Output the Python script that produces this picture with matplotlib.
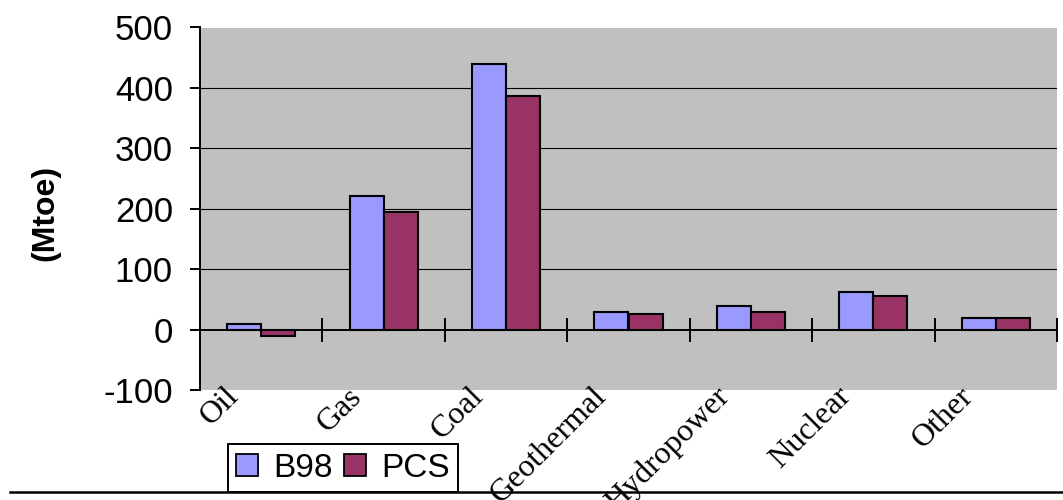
import numpy as np
import matplotlib
matplotlib.use("Agg")
import matplotlib.pyplot as plt
from matplotlib.lines import Line2D
from matplotlib.patches import Patch
import matplotlib.transforms as mtransforms

plt.rcParams["axes.unicode_minus"] = False

# energy supply by source (Mtoe)
sources = ["Oil", "Gas", "Coal", "Geothermal", "Hydropower", "Nuclear", "Other"]
b98 = [10, 221, 439, 29, 39, 62, 19]
pcs = [-10, 195, 386, 26, 29, 56, 19]
yticks = [-100, 0, 100, 200, 300, 400, 500]

c_b98 = "#9999FF"
c_pcs = "#993366"

fig = plt.figure(figsize=(10.63, 5.0), dpi=100)
ax = fig.add_axes([200/1063, 110/500, 857/1063, 362.5/500])
ax.set_facecolor("#C0C0C0")

x = np.arange(len(sources))
w = 0.278
ax.bar(x - w/2, b98, w, color=c_b98, edgecolor="black", linewidth=1.5, zorder=3, label="B98")
ax.bar(x + w/2, pcs, w, color=c_pcs, edgecolor="black", linewidth=1.5, zorder=3, label="PCS")

ax.set_xlim(-0.5, len(sources) - 0.5)
ax.set_ylim(yticks[0], yticks[-1])

# gridlines between the zero line and the top
ax.hlines([t for t in yticks if 0 < t < yticks[-1]], -0.5, len(sources) - 0.5,
          colors="black", linewidth=0.8, zorder=1)

for s in ["top", "right"]:
    ax.spines[s].set_visible(False)
ax.spines["left"].set_linewidth(1.4)
ax.spines["bottom"].set_position(("data", 0))
ax.spines["bottom"].set_linewidth(1.4)
ax.spines["bottom"].set_zorder(4)

ax.set_yticks(yticks)
ax.tick_params(axis="y", direction="out", length=7.5, width=1.4, pad=12,
               labelsize=25)
for lab in ax.get_yticklabels():
    lab.set_fontfamily("Liberation Sans")

ax.set_xticks(np.arange(1, len(sources) + 1) - 0.5)
ax.tick_params(axis="x", direction="inout", length=17, width=1.4, labelbottom=False)

# category names under the plot, slanted
trans = mtransforms.blended_transform_factory(ax.transData, ax.transAxes)
for i, name in enumerate(sources):
    ax.text(i - 0.30, 0.022, name, transform=trans, rotation=45,
            rotation_mode="anchor", ha="right", va="top",
            fontfamily="Liberation Serif", fontsize=23)

ax.set_ylabel("(Mtoe)", fontsize=23, fontweight="bold", fontfamily="Liberation Sans")
ax.yaxis.set_label_coords(-0.163, 0.488)

handles = [Patch(facecolor=c_b98, edgecolor="black", linewidth=1.3),
           Patch(facecolor=c_pcs, edgecolor="black", linewidth=1.3)]
leg = fig.legend(handles, ["B98", "PCS"], loc="lower left",
                 bbox_to_anchor=(228/1063, 8/500), ncol=2, fancybox=False,
                 framealpha=1, edgecolor="black", borderaxespad=0,
                 prop={"family": "Liberation Sans", "size": 24},
                 handlelength=0.65, handleheight=0.65, handletextpad=0.45,
                 columnspacing=0.35, borderpad=0.25)
leg.get_frame().set_linewidth(1.4)

fig.add_artist(Line2D([10/1063, 1.0], [8/500, 8/500], color="black", linewidth=1.8))

fig.savefig("out.png", dpi=100)
